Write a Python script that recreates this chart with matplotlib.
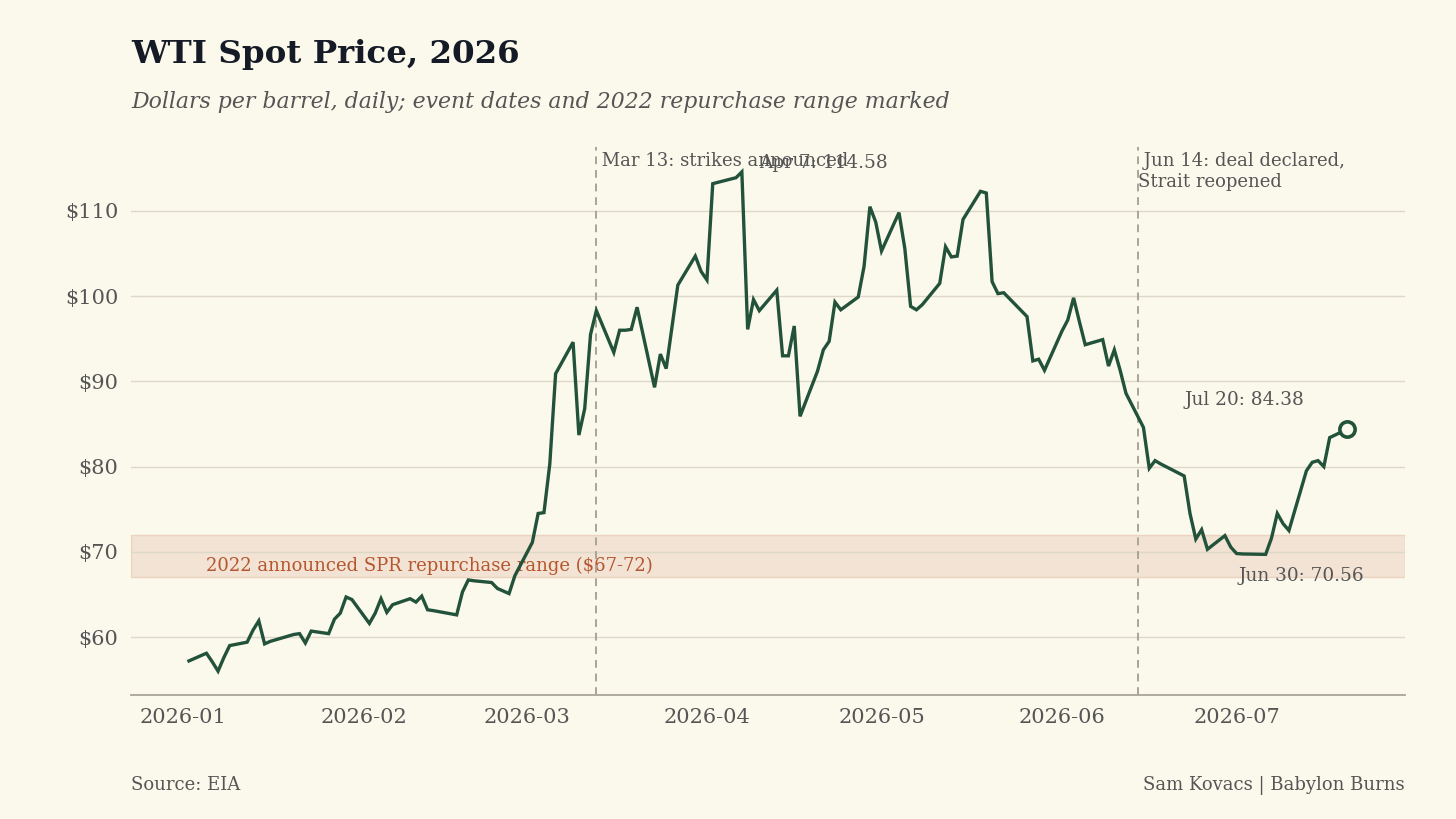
import pandas as pd
import matplotlib.pyplot as plt
import matplotlib.dates as mdates

# =========== DATA =============
dates = [
    '2026-01-02', '2026-01-05', '2026-01-06', '2026-01-07', '2026-01-08', '2026-01-09',
    '2026-01-12', '2026-01-13', '2026-01-14', '2026-01-15', '2026-01-16',
    '2026-01-20', '2026-01-21', '2026-01-22', '2026-01-23',
    '2026-01-26', '2026-01-27', '2026-01-28', '2026-01-29', '2026-01-30',
    '2026-02-02', '2026-02-03', '2026-02-04', '2026-02-05', '2026-02-06',
    '2026-02-09', '2026-02-10', '2026-02-11', '2026-02-12', '2026-02-13',
    '2026-02-17', '2026-02-18', '2026-02-19', '2026-02-20',
    '2026-02-23', '2026-02-24', '2026-02-25', '2026-02-26', '2026-02-27',
    '2026-03-02', '2026-03-03', '2026-03-04', '2026-03-05', '2026-03-06',
    '2026-03-09', '2026-03-10', '2026-03-11', '2026-03-12', '2026-03-13',
    '2026-03-16', '2026-03-17', '2026-03-18', '2026-03-19', '2026-03-20',
    '2026-03-23', '2026-03-24', '2026-03-25', '2026-03-26', '2026-03-27',
    '2026-03-30', '2026-03-31', '2026-04-01', '2026-04-02',
    '2026-04-06', '2026-04-07', '2026-04-08', '2026-04-09', '2026-04-10',
    '2026-04-13', '2026-04-14', '2026-04-15', '2026-04-16', '2026-04-17',
    '2026-04-20', '2026-04-21', '2026-04-22', '2026-04-23', '2026-04-24',
    '2026-04-27', '2026-04-28', '2026-04-29', '2026-04-30', '2026-05-01',
    '2026-05-04', '2026-05-05', '2026-05-06', '2026-05-07', '2026-05-08',
    '2026-05-11', '2026-05-12', '2026-05-13', '2026-05-14', '2026-05-15',
    '2026-05-18', '2026-05-19', '2026-05-20', '2026-05-21', '2026-05-22',
    '2026-05-26', '2026-05-27', '2026-05-28', '2026-05-29',
    '2026-06-01', '2026-06-02', '2026-06-03', '2026-06-04', '2026-06-05',
    '2026-06-08', '2026-06-09', '2026-06-10', '2026-06-11', '2026-06-12',
    '2026-06-15', '2026-06-16', '2026-06-17', '2026-06-18',
    '2026-06-22', '2026-06-23', '2026-06-24', '2026-06-25', '2026-06-26',
    '2026-06-29', '2026-06-30', '2026-07-01', '2026-07-02',
    '2026-07-06', '2026-07-07', '2026-07-08', '2026-07-09', '2026-07-10',
    '2026-07-13', '2026-07-14', '2026-07-15', '2026-07-16', '2026-07-17',
    '2026-07-20',
]
prices = [
    57.2, 58.1, 57.1, 56.0, 57.6, 59.0,
    59.4, 60.8, 61.9, 59.2, 59.5,
    60.3, 60.4, 59.3, 60.7,
    60.4, 62.1, 62.8, 64.7, 64.4,
    61.6, 62.8, 64.5, 62.9, 63.8,
    64.5, 64.1, 64.8, 63.2, 63.1,
    62.6, 65.3, 66.7, 66.6,
    66.4, 65.7, 65.4, 65.1, 67.2,
    71.1, 74.5, 74.6, 80.3, 90.9,
    94.6, 83.7, 86.8, 95.5, 98.3,
    93.4, 96.0, 96.0, 96.1, 98.7,
    89.3, 93.2, 91.5, 96.4, 101.3,
    104.7, 102.9, 101.9, 113.2,
    113.9, 114.58, 96.1, 99.6, 98.3,
    100.7, 93.0, 93.0, 96.5, 85.9,
    91.2, 93.7, 94.7, 99.3, 98.4,
    99.9, 103.5, 110.5, 108.7, 105.3,
    109.8, 105.6, 98.8, 98.4, 99.0,
    101.5, 105.8, 104.6, 104.7, 109.0,
    112.3, 112.1, 101.7, 100.3, 100.4,
    97.6, 92.4, 92.6, 91.3,
    95.9, 97.2, 99.8, 97.0, 94.3,
    94.9, 91.8, 93.7, 91.3, 88.6,
    84.6, 79.8, 80.7, 80.3,
    78.9, 74.5, 71.5, 72.6, 70.3,
    71.9, 70.56, 69.8, 69.75,
    69.7, 71.6, 74.5, 73.3, 72.5,
    79.5, 80.5, 80.7, 80.0, 83.4,
    84.38,
]
dates = pd.to_datetime(dates)

events = {'2026-03-13': ' Mar 13: strikes announced',
          '2026-06-14': ' Jun 14: deal declared,\nStrait reopened'}

band_low, band_high = 67, 72
yticks = [60, 70, 80, 90, 100, 110]

# =========== STYLE =============
BG = '#fbf8ec'
GREEN = '#22523a'
TEXT = '#555555'
plt.rcParams['font.family'] = ['DejaVu Serif']

fig = plt.figure(figsize=(14.56, 8.19), dpi=100, facecolor=BG)
ax = fig.add_axes([0.09, 0.1514, 0.875, 0.6691], facecolor=BG)

ax.axhspan(band_low, band_high, facecolor='#f2e3d4', edgecolor='#ecd3bf', lw=1, zorder=0)
ax.text(pd.Timestamp('2026-01-05'), 68.4, '2022 announced SPR repurchase range ($67-72)',
        color='#b5562e', fontsize=13, va='center', ha='left', zorder=1)

ax.plot(dates, prices, color=GREEN, lw=2.4, zorder=3, solid_joinstyle='miter')
ax.plot(dates[-1], prices[-1], 'o', ms=11, mfc=BG, mec=GREEN, mew=2.6, zorder=4)

for d, label in events.items():
    ax.axvline(pd.Timestamp(d), color='#a8a598', ls=(0, (4, 3)), lw=1.4, zorder=2)
    ax.text(pd.Timestamp(d), 0.99, label, transform=ax.get_xaxis_transform(),
            ha='left', va='top', color=TEXT, fontsize=13, linespacing=1.15)

# annotations: peak, low, latest
i_peak = prices.index(max(prices))
ax.annotate(f"{dates[i_peak]:%b} {dates[i_peak].day}: {prices[i_peak]:.2f}",
            xy=(dates[i_peak], prices[i_peak]), xytext=(82, 0), textcoords='offset pixels',
            ha='center', va='bottom', color=TEXT, fontsize=13.3)
i_low = list(dates).index(pd.Timestamp('2026-06-30'))
ax.annotate(f"{dates[i_low]:%b} {dates[i_low].day}: {prices[i_low]:.2f}",
            xy=(dates[i_low], prices[i_low]), xytext=(71, -34), textcoords='offset pixels',
            ha='center', va='baseline', color=TEXT, fontsize=13.3)
ax.annotate(f"{dates[-1]:%b} {dates[-1].day}: {prices[-1]:.2f}",
            xy=(dates[-1], prices[-1]), xytext=(-103, 24), textcoords='offset pixels',
            ha='center', va='baseline', color=TEXT, fontsize=13.3)

ax.set_ylim(53.2, 117.5)
ax.set_yticks(yticks)
ax.set_yticklabels([f'${v}' for v in yticks])
ax.xaxis.set_major_locator(mdates.MonthLocator())
ax.xaxis.set_major_formatter(mdates.DateFormatter('%Y-%m'))
ax.tick_params(axis='both', length=0, labelsize=15, labelcolor=TEXT, pad=9)
ax.grid(axis='y', color='#ddd8c8', lw=1, zorder=0)
ax.set_axisbelow(True)
for side in ['left', 'right', 'top']:
    ax.spines[side].set_visible(False)
ax.spines['bottom'].set_color('#a8a598')
ax.spines['bottom'].set_linewidth(1.3)

fig.text(0.09, 0.923, 'WTI Spot Price, 2026', fontsize=23.4, fontweight='bold',
         color='#141b26', ha='left', va='baseline')
fig.text(0.09, 0.868, 'Dollars per barrel, daily; event dates and 2022 repurchase range marked',
         fontsize=15.85, style='italic', color=TEXT, ha='left', va='baseline')
fig.text(0.09, 0.035, 'Source: EIA', fontsize=13, color=TEXT, ha='left', va='baseline')
fig.text(0.965, 0.035, 'Sam Kovacs | Babylon Burns', fontsize=13, color=TEXT,
         ha='right', va='baseline')

plt.savefig('out.png', facecolor=BG)
